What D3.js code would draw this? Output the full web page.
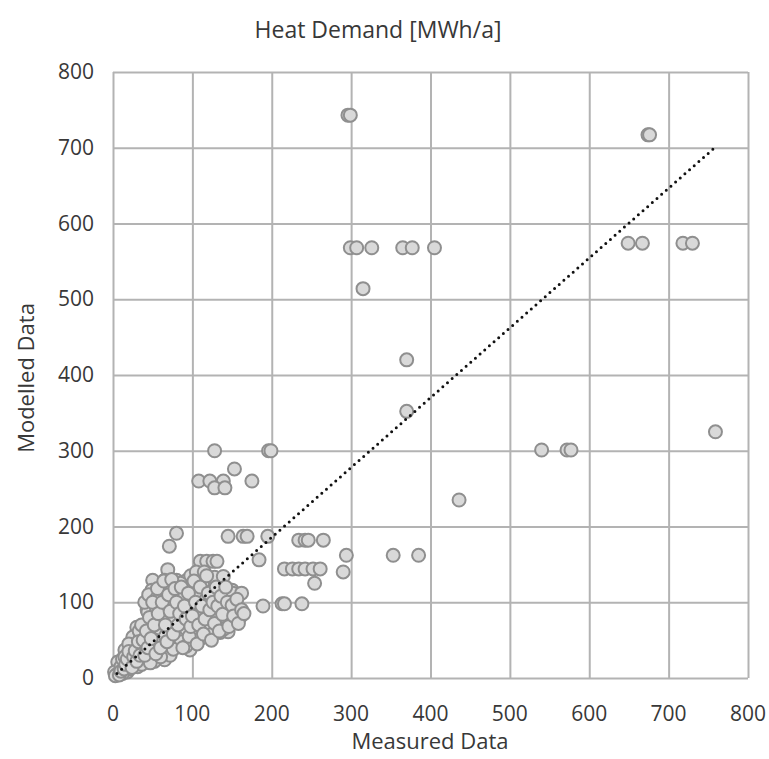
<!DOCTYPE html>
<html>
<head>
<meta charset="utf-8">
<script src="https://cdn.jsdelivr.net/npm/d3@7"></script>
<style>
  html, body { margin: 0; padding: 0; background: #fff; }
  text { font-family: "Open Sans", "Noto Sans", sans-serif; fill: #383838; }
</style>
</head>
<body>
<svg id="chart" width="769" height="759"></svg>
<script>
// ---- Data ----
const chartTitle = "Heat Demand [MWh/a]";
const xAxisTitle = "Measured Data";
const yAxisTitle = "Modelled Data";
const xTicks = [0, 100, 200, 300, 400, 500, 600, 700, 800];
const yTicks = [0, 100, 200, 300, 400, 500, 600, 700, 800];

// measured (x) and modelled (y) values, point by point
const measured = [
  296, 299, 674, 676,
  299, 307, 326, 365, 377, 405,
  315,
  649, 667, 718, 730,
  759,
  540, 572, 577,
  370, 370, 436,
  353, 385, 294, 290,
  128, 196, 199, 153,
  108, 122, 139, 175, 128, 141,
  80, 71,
  145, 164, 169, 195,
  234, 242, 246, 265,
  216, 226, 234, 242, 252, 261,
  254, 189, 213, 216, 238, 184,
  110, 118, 126, 131,
  69, 50, 65, 80, 93, 112, 128, 139,
  49, 59, 61, 78, 94,
  82, 112, 137, 150, 151, 162,
  43, 74, 120, 132, 145, 97, 116, 128, 141, 151,
  44, 93, 112, 126, 139, 145,
  30, 44, 56, 72, 88, 99, 103, 116,
  25, 40, 53, 59, 69, 80, 97, 82,
  15, 30, 43, 65,
  6, 17, 31, 8, 2, 18,
  120, 132, 143, 153, 128, 113, 151,
  10, 12, 20, 22, 25, 28, 35, 35, 38, 45, 48, 50, 52, 55, 58, 62, 63, 66, 70, 72,
  75, 77, 85, 86, 90, 92, 100, 104, 106, 108, 118, 122, 125, 133, 135, 140, 148, 155, 160,
  98, 85, 105, 115, 40, 45, 55, 68, 33, 20, 15, 5, 3, 12, 36, 47, 60, 76, 92, 110, 125, 140,
  8, 10, 14, 16, 18, 20, 24, 26, 28, 30, 32, 34, 36, 38, 40, 42, 44, 46, 48, 50,
  52, 54, 56, 57, 60, 62, 64, 66, 68, 70, 72, 74, 76, 78, 80, 82, 84, 86, 88, 90,
  92, 95, 96, 98, 100, 102, 104, 106, 108, 110, 112, 114, 116, 118, 120, 122, 124, 126, 128, 130,
  132, 134, 136, 138, 142, 144, 146, 150, 152, 156, 158, 162, 165
];
const modelled = [
  743, 743, 717, 717,
  568, 568, 568, 568, 568, 568,
  514,
  574, 574, 574, 574,
  325,
  301, 301, 301,
  352, 420, 235,
  162, 162, 162, 140,
  300, 300, 300, 276,
  260, 260, 260, 260, 251, 251,
  191, 174,
  187, 187, 187, 187,
  182, 182, 182, 182,
  144, 144, 144, 144, 144, 144,
  125, 95, 98, 98, 98, 156,
  154, 154, 154, 154,
  143, 129, 129, 129, 129, 125, 133, 134,
  116, 116, 99, 99, 99,
  106, 110, 112, 116, 112, 112,
  90, 87, 94, 87, 87, 83, 94, 90, 87, 87,
  87, 86, 86, 83, 74, 61,
  67, 72, 63, 66, 59, 74, 50, 66,
  54, 46, 50, 34, 46, 41, 37, 54,
  37, 33, 26, 24,
  21, 20, 15, 11, 8, 8,
  81, 81, 74, 74, 67, 123, 77,
  15, 25, 12, 30, 20, 42, 25, 55, 38, 60, 35, 75, 22, 90, 45, 80, 110, 55, 95, 30,
  115, 75, 90, 48, 110, 65, 95, 60, 115, 80, 105, 70, 115, 100, 60, 95, 100, 90, 80,
  135, 125, 140, 140, 100, 110, 105, 120, 62, 45, 28, 5, 3, 6, 18, 20, 28, 38, 42, 52, 58, 65,
  4, 9, 12, 18, 25, 35, 14, 28, 36, 22, 48, 30, 70, 50, 30, 62, 40, 80, 52, 100,
  70, 32, 118, 85, 40, 100, 128, 70, 48, 110, 88, 130, 58, 118, 100, 70, 85, 120, 40, 95,
  78, 112, 55, 68, 82, 128, 100, 45, 70, 120, 95, 58, 78, 135, 112, 90, 50, 100, 72, 120,
  95, 62, 108, 84, 120, 100, 68, 96, 82, 104, 72, 90, 85
];
// linear trend line end points (measured, modelled)
const trendX = [5, 759];
const trendY = [6, 701];

(function () {
// ---- Layout ----
const svg = d3.select("#chart");
const mLeft = 113, mRight = 748, mTop = 72, mBottom = 678;

const x = d3.scaleLinear().domain([0, 800]).range([mLeft, mRight]);
const y = d3.scaleLinear().domain([0, 800]).range([mBottom, mTop]);

const gridColor = "#b3b3b3";

// grid lines via axes
svg.append("g")
  .attr("transform", `translate(0,${mBottom})`)
  .call(d3.axisBottom(x).tickValues(xTicks).tickSize(-(mBottom - mTop)).tickFormat(""))
  .call(g => g.select(".domain").remove())
  .call(g => g.selectAll("line").attr("stroke", gridColor).attr("stroke-width", 2));

svg.append("g")
  .attr("transform", `translate(${mLeft},0)`)
  .call(d3.axisLeft(y).tickValues(yTicks).tickSize(-(mRight - mLeft)).tickFormat(""))
  .call(g => g.select(".domain").remove())
  .call(g => g.selectAll("line").attr("stroke", gridColor).attr("stroke-width", 2));

// tick labels
svg.append("g").selectAll("text").data(xTicks).join("text")
  .attr("x", d => x(d)).attr("y", 721)
  .attr("text-anchor", "middle")
  .style("font-size", "21px")
  .text(d => d);

svg.append("g").selectAll("text").data(yTicks).join("text")
  .attr("x", 94).attr("y", d => y(d) + 7)
  .attr("text-anchor", "end")
  .style("font-size", "21px")
  .text(d => d);

// points
const pts = measured.map((m, i) => ({ m, v: modelled[i] }));
svg.append("g").selectAll("circle").data(pts).join("circle")
  .attr("cx", d => x(d.m)).attr("cy", d => y(d.v))
  .attr("r", 6.5)
  .attr("fill", "#d9d9d9")
  .attr("stroke", "#8f8f8f")
  .attr("stroke-width", 2);

// dotted trend line
svg.append("line")
  .attr("x1", x(trendX[0])).attr("y1", y(trendY[0]))
  .attr("x2", x(trendX[1])).attr("y2", y(trendY[1]))
  .attr("stroke", "#111")
  .attr("stroke-width", 3)
  .attr("stroke-linecap", "round")
  .attr("stroke-dasharray", "0 6.2");

// titles
svg.append("text")
  .attr("x", 378).attr("y", 38)
  .attr("text-anchor", "middle")
  .style("font-size", "23px")
  .text(chartTitle);

svg.append("text")
  .attr("x", 430).attr("y", 749)
  .attr("text-anchor", "middle")
  .style("font-size", "22px")
  .text(xAxisTitle);

svg.append("text")
  .attr("transform", "translate(34,378) rotate(-90)")
  .attr("text-anchor", "middle")
  .style("font-size", "22px")
  .text(yAxisTitle);
})();
</script>
</body>
</html>
